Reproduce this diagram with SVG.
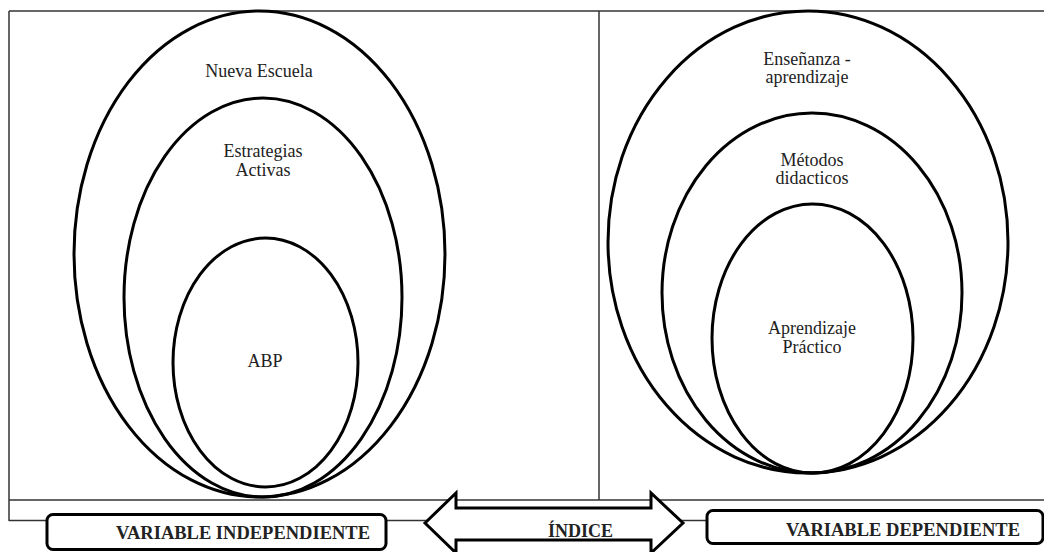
<svg xmlns="http://www.w3.org/2000/svg" width="1044" height="552" viewBox="0 0 1044 552">
<style>
.frame{stroke:#333;stroke-width:1.5;fill:none}
.ell{fill:none;stroke:#000;stroke-width:3}
.t{font-family:'Liberation Serif','DejaVu Serif',serif;font-size:18px;fill:#222;text-anchor:middle}
.b{font-family:'Liberation Serif','DejaVu Serif',serif;font-size:18px;font-weight:bold;fill:#222}
.box{fill:#fff;stroke:#000;stroke-width:3}
</style>
<rect width="1044" height="552" fill="#fff"/>
<g id="frame">
<line class="frame" x1="9" y1="11" x2="1044" y2="11"/>
<line class="frame" x1="9" y1="11" x2="9" y2="521"/>
<line class="frame" x1="599" y1="11" x2="599" y2="500"/>
<line class="frame" x1="9" y1="500" x2="1044" y2="500"/>
</g>
<g id="connectors">
<line class="frame" x1="9" y1="520.5" x2="48" y2="520.5"/>
<line class="frame" x1="386" y1="520.5" x2="428" y2="520.5"/>
<line class="frame" x1="680" y1="520.5" x2="708" y2="520.5"/>
</g>
<g id="left-ellipses">
<ellipse id="nueva-escuela" class="ell" cx="259.5" cy="254" rx="185.5" ry="243"/>
<ellipse id="estrategias" class="ell" cx="263" cy="297.5" rx="139" ry="199.5"/>
<ellipse id="abp" class="ell" cx="265.5" cy="362.5" rx="92.5" ry="124.5"/>
<text class="t" x="259" y="77">Nueva Escuela</text>
<text class="t" x="263" y="157">Estrategias</text>
<text class="t" x="263" y="176">Activas</text>
<text class="t" x="265" y="367">ABP</text>
</g>
<g id="right-ellipses">
<ellipse id="ensenanza" class="ell" cx="808" cy="242" rx="200" ry="231"/>
<ellipse id="metodos" class="ell" cx="812" cy="293" rx="150" ry="180"/>
<ellipse id="aprendizaje" class="ell" cx="812.5" cy="338.5" rx="100.5" ry="134.5"/>
<text class="t" x="807" y="65">Enseñanza -</text>
<text class="t" x="807" y="83">aprendizaje</text>
<text class="t" x="812" y="166">Métodos</text>
<text class="t" x="812" y="184">didacticos</text>
<text class="t" x="812" y="334">Aprendizaje</text>
<text class="t" x="812" y="353">Práctico</text>
</g>
<g id="var-independiente">
<rect class="box" x="47" y="514.5" width="339" height="35" rx="6"/>
<text class="b" x="116" y="539" textLength="254" lengthAdjust="spacingAndGlyphs">VARIABLE INDEPENDIENTE</text>
</g>
<g id="indice">
<path class="box" d="M425,523 L456,493 L456,508 L651,508 L651,493 L683,523 L651,553 L651,540 L456,540 L456,553 Z"/>
<text class="b" x="548" y="537" textLength="65" lengthAdjust="spacingAndGlyphs">ÍNDICE</text>
</g>
<g id="var-dependiente">
<rect class="box" x="707" y="510.5" width="336" height="33" rx="6"/>
<text class="b" x="786" y="536" textLength="234" lengthAdjust="spacingAndGlyphs">VARIABLE DEPENDIENTE</text>
</g>
</svg>
